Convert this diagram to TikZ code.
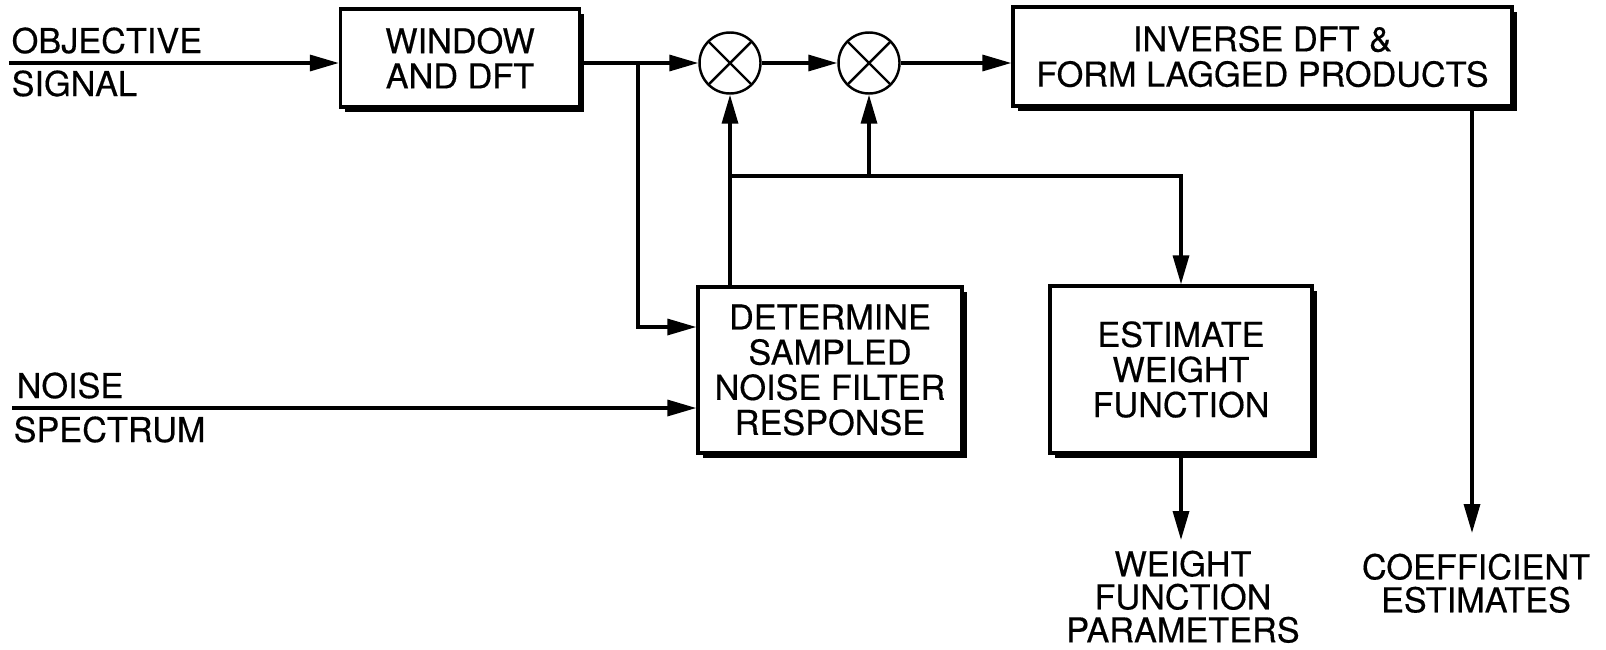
\documentclass[tikz,border=0pt]{standalone}
\usepackage{fontspec}
\setmainfont{TeX Gyre Heros}[FakeBold=0.4]
\usepackage{tikz}
\usetikzlibrary{arrows.meta, positioning, shadows}

\begin{document}
\begin{tikzpicture}[font=\fontsize{19.5}{20}\selectfont, line width=1.9pt,
  box/.style={draw, fill=white, align=center, inner sep=0pt,
    drop shadow={shadow xshift=0.09cm, shadow yshift=-0.09cm, fill=black, opacity=1}},
  mult/.style={draw, circle, line width=1.4pt, minimum size=1.22cm, inner sep=0pt,
    path picture={\draw[line width=1.4pt] (path picture bounding box.north west) -- (path picture bounding box.south east)
      (path picture bounding box.north east) -- (path picture bounding box.south west);}},
  lbl/.style={align=center, inner sep=0pt},
  flow/.style={-{Triangle[length=0.58cm, width=0.32cm]}}]
 \useasboundingbox (0,0) rectangle (32.12,-12.98);
 \node[box, minimum width=4.78cm, minimum height=1.96cm] (win) at (9.20,-1.16){WINDOW\\AND DFT};
 \node[box, minimum width=9.98cm, minimum height=1.98cm] (inv) at (25.25,-1.13){INVERSE DFT \&\\FORM LAGGED PRODUCTS};
 \node[box, minimum width=5.28cm, minimum height=3.32cm] (det) at (16.60,-7.40){DETERMINE\\SAMPLED\\NOISE FILTER\\RESPONSE};
 \node[box, minimum width=5.24cm, minimum height=3.34cm] (est) at (23.62,-7.39){ESTIMATE\\WEIGHT\\FUNCTION};
 \node[mult] (m1) at (14.60,-1.26){};
 \node[mult] (m2) at (17.38,-1.26){};
 \coordinate (obj) at (0.18,-1.26);
 \coordinate (noise) at (0.24,-8.16);
 \coordinate (br) at (12.76,-1.26);
 \coordinate (jn) at (14.60,-3.52);
 \coordinate (wout) at (23.62,-10.80);
 \coordinate (cout) at (29.44,-10.66);
 \node[lbl, anchor=base west] (objt) at (0.2,-1.06){OBJECTIVE};
 \node[lbl, anchor=base west] (objb) at (0.2,-1.92){SIGNAL};
 \node[lbl, anchor=base west] (noit) at (0.3,-7.96){NOISE};
 \node[lbl, anchor=base west] (noib) at (0.24,-8.84){SPECTRUM};
 \node[lbl, anchor=north, font=\fontsize{19.5}{18.8}\selectfont] (wpar) at (23.66,-10.98){WEIGHT\\FUNCTION\\PARAMETERS};
 \node[lbl, anchor=north, font=\fontsize{19.5}{18.8}\selectfont] (coef) at (29.52,-11.04){COEFFICIENT\\ESTIMATES};
 \draw[flow] (obj) -- (win.west |- obj);
 \draw[flow] (win.east |- m1) -- (m1);
 \draw[flow] (br) |- ([yshift=0.86cm]det.west);
 \draw[flow] (noise) -- (det.west |- noise);
 \draw[flow] (m1 |- det.north) -- (m1.south);
 \draw[flow] (jn) -| (est.north);
 \draw[flow] (m2 |- jn) -- (m2.south);
 \draw[flow] (m1) -- (m2);
 \draw[flow] (m2) -- (inv.west |- m2);
 \draw[flow] (est.south) -- (wout);
 \draw[flow] (inv.south -| cout) -- (cout);
\end{tikzpicture}
\end{document}
